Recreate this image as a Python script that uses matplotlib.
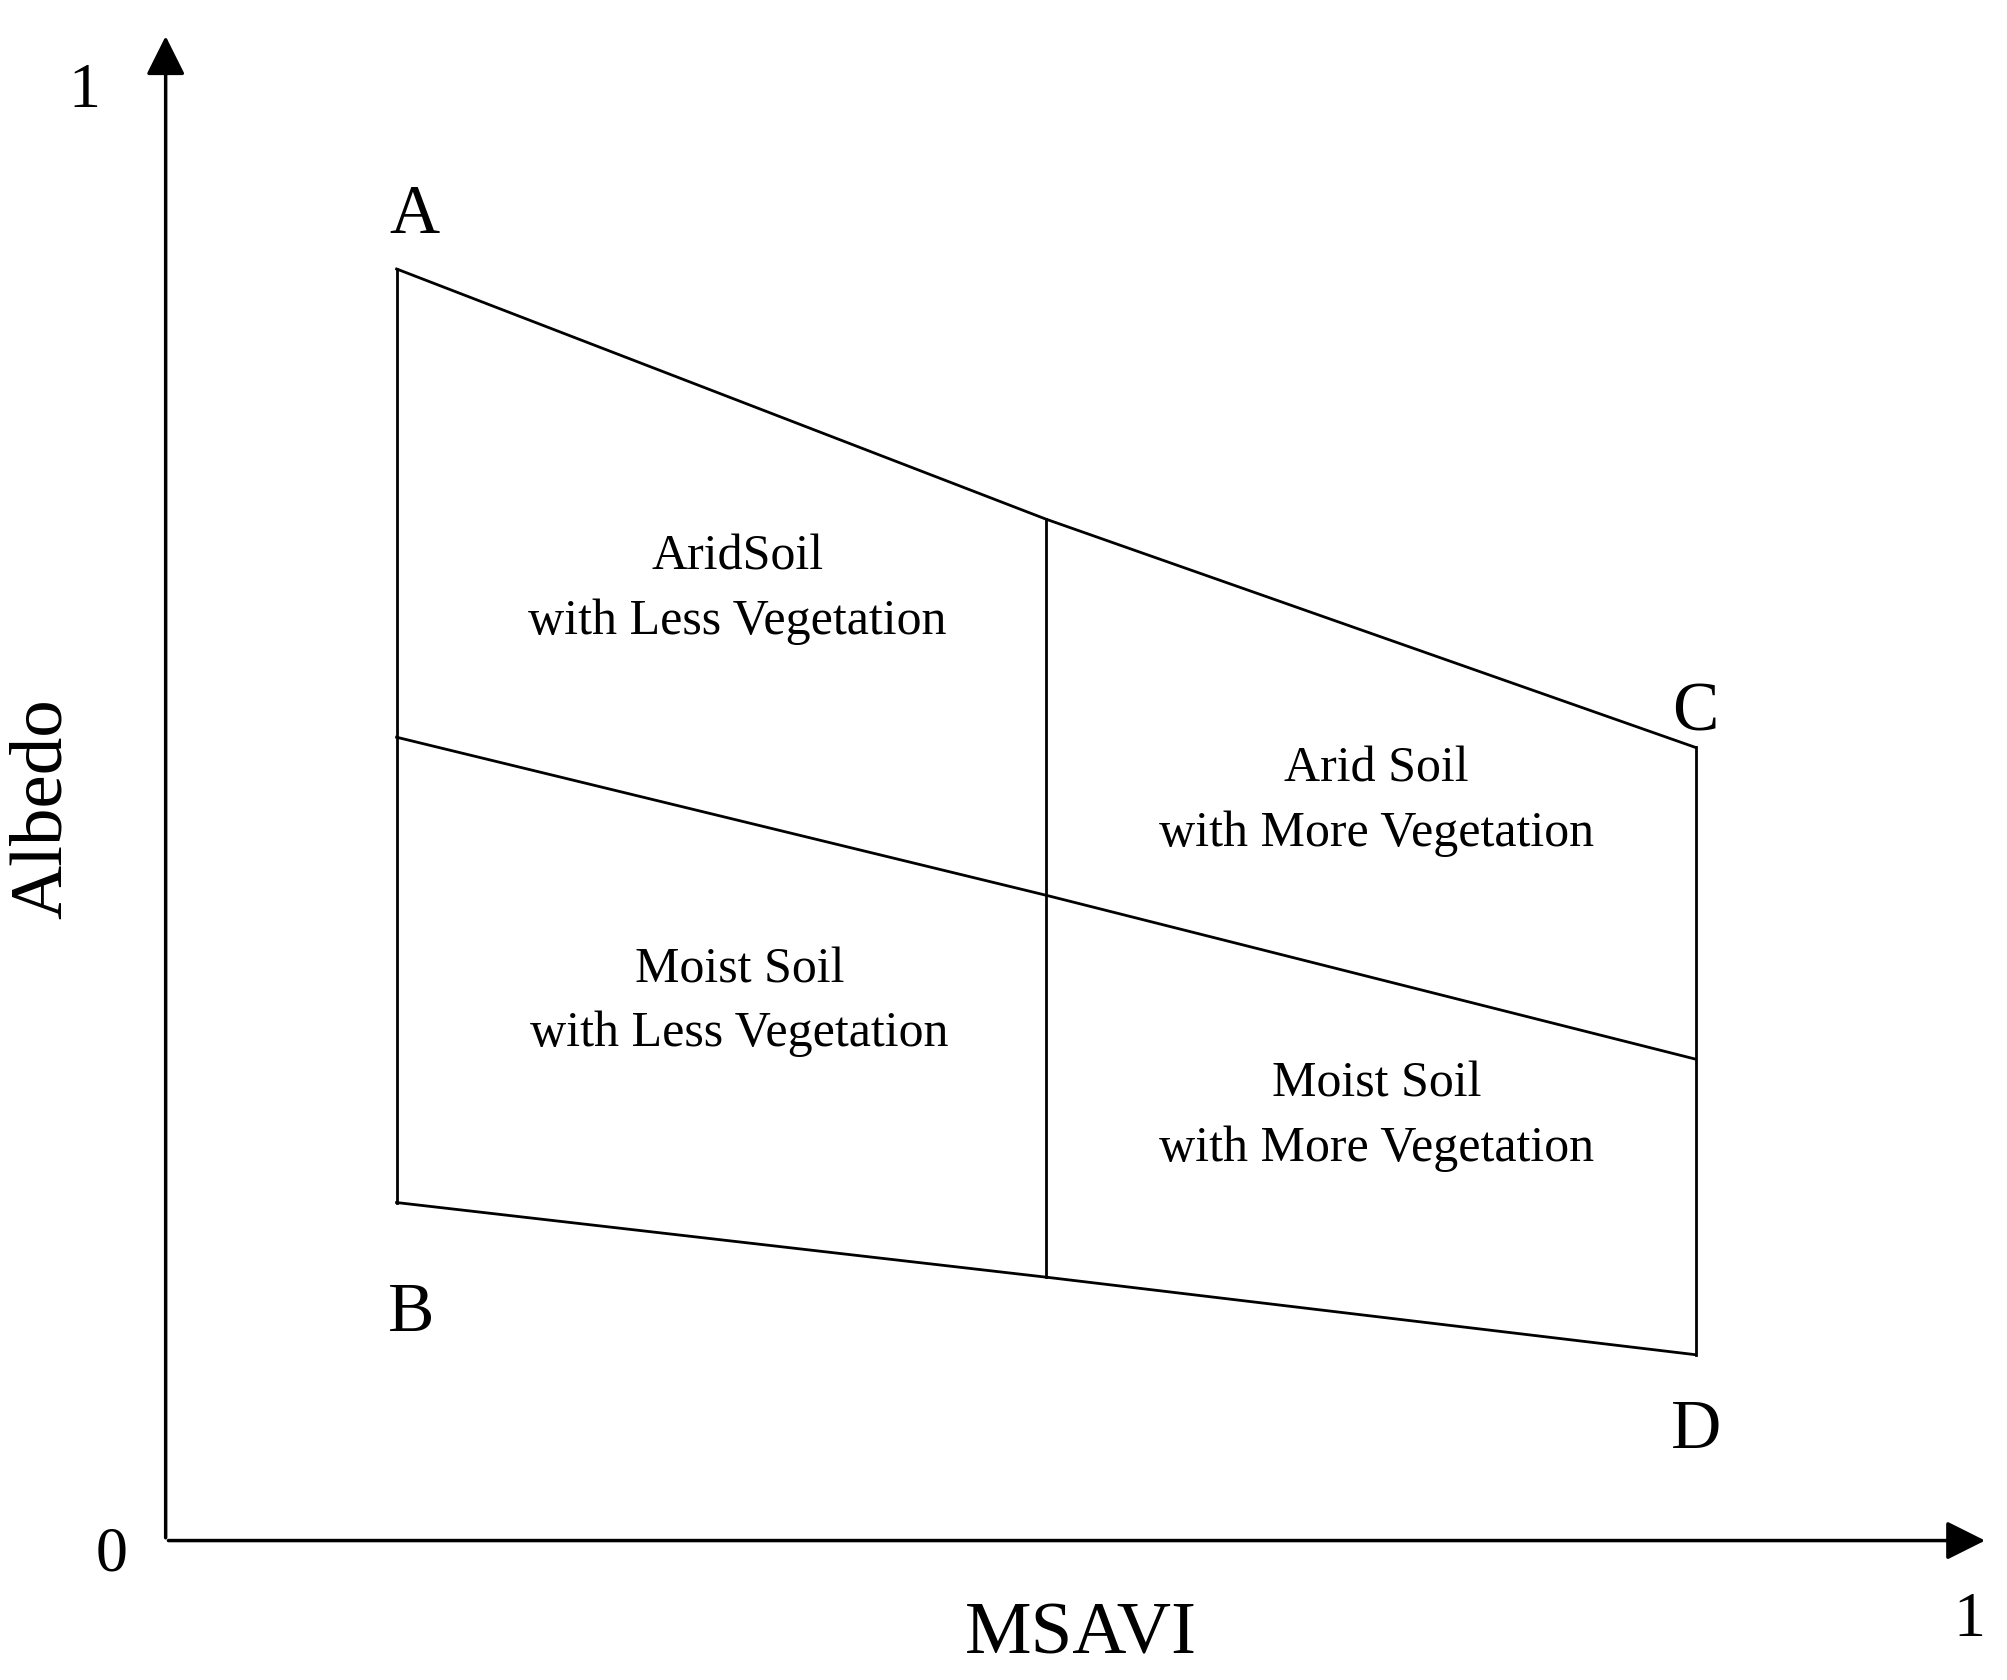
import matplotlib.pyplot as plt

plt.rcParams['font.family'] = ['Liberation Serif', 'DejaVu Serif']

# polygon corners (MSAVI, Albedo)
x_left, x_mid, x_right = 0.128, 0.488, 0.848
top_y = [0.869, 0.698, 0.542]
mid_y = [0.549, 0.441, 0.329]
bot_y = [0.231, 0.180, 0.127]
xs = [x_left, x_mid, x_right]

corner_labels = ['A', 'B', 'C', 'D']
corner_pos = [(0.138, 0.905), (0.136, 0.155), (0.848, 0.565), (0.848, 0.075)]

regions = ['AridSoil\nwith Less Vegetation', 'Arid Soil\nwith More Vegetation',
           'Moist Soil\nwith Less Vegetation', 'Moist Soil\nwith More Vegetation']
region_pos = [(0.317, 0.65), (0.671, 0.505), (0.318, 0.368), (0.671, 0.29)]

fig = plt.figure(figsize=(20.08, 16.8), dpi=100)
ax = fig.add_axes([0.0825, 0.083, 0.8985, 0.871])
ax.set_xlim(0, 1)
ax.set_ylim(0, 1)
ax.axis('off')

lw = 2
ax.plot(xs, top_y, 'k', lw=lw)
ax.plot(xs, mid_y, 'k', lw=lw)
ax.plot(xs, bot_y, 'k', lw=lw)
ax.plot([x_left, x_left], [bot_y[0], top_y[0]], 'k', lw=lw)
ax.plot([x_mid, x_mid], [bot_y[1], top_y[1]], 'k', lw=lw)
ax.plot([x_right, x_right], [bot_y[2], top_y[2]], 'k', lw=lw)

# axes arrows
ax.annotate('', xy=(1.01, 0), xytext=(0, 0), annotation_clip=False,
            arrowprops=dict(arrowstyle='-|>', color='k', lw=2.5, mutation_scale=60))
ax.annotate('', xy=(0, 1.03), xytext=(0, 0), annotation_clip=False,
            arrowprops=dict(arrowstyle='-|>', color='k', lw=2.5, mutation_scale=60))

for lab, (px, py) in zip(corner_labels, corner_pos):
    ax.text(px, py, lab, fontsize=50, ha='center', va='center')
for lab, (px, py) in zip(regions, region_pos):
    ax.text(px, py, lab, fontsize=36, ha='center', va='center', linespacing=1.5)

ax.text(-0.03, -0.01, '0', fontsize=46, ha='center', va='center', clip_on=False)
ax.text(-0.045, 0.99, '1', fontsize=46, ha='center', va='center', clip_on=False)
ax.text(1.0, -0.055, '1', fontsize=46, ha='center', va='center', clip_on=False)
ax.text(0.507, -0.065, 'MSAVI', fontsize=54, ha='center', va='center', clip_on=False)
ax.text(-0.068, 0.50, 'Albedo', fontsize=54, ha='center', va='center', rotation=90, clip_on=False)

fig.savefig('out.png', dpi=100)
